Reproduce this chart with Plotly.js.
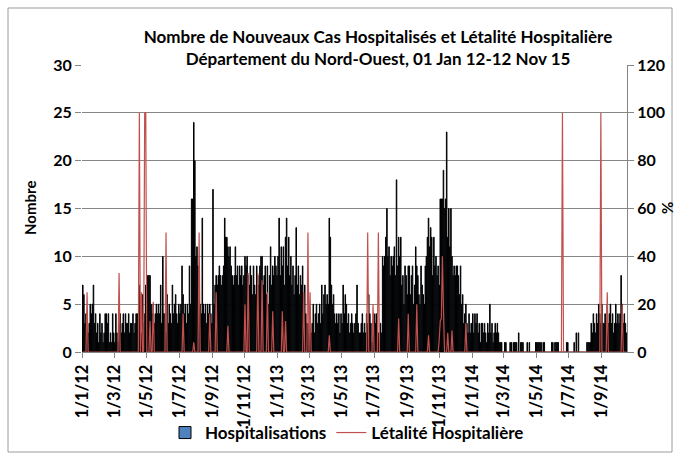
<!DOCTYPE html>
<html>
<head>
<meta charset="utf-8">
<script src="https://cdn.plot.ly/plotly-3.0.1.min.js"></script>
<style>
  html, body { margin: 0; padding: 0; background: #fff; }
  #chart { width: 677px; height: 457px; }
</style>
</head>
<body>
<div id="chart"></div>
<script>
// Daily counts aggregated in 2-day periods (one row per month)
const hosp2012 = [
  7,6,3,4,4,2,3,5,4,5,7,3,4,2,3,1,        // Jan
  4,2,3,1,2,4,4,3,4,1,2,1,4,2,            // Feb
  1,4,2,1,3,4,2,3,4,2,4,3,3,4,2,3,        // Mar
  3,4,2,3,4,4,3,7,5,2,6,3,4,7,8,          // Apr
  8,8,8,5,4,5,3,4,5,4,5,4,7,3,10,4,       // May
  4,2,6,3,5,4,3,7,4,5,6,4,3,5,4,          // Jun
  5,9,6,4,5,3,5,4,9,5,16,16,24,20,10,11,  // Jul
  9,6,5,4,14,5,4,5,3,5,4,5,4,3,17,        // Aug
  5,7,8,7,8,9,8,7,8,9,14,12,12,11,10,     // Sep
  11,9,8,7,8,11,8,9,7,9,8,9,7,8,10,       // Oct
  9,10,8,7,9,8,6,9,7,6,9,8,7,9,10,        // Nov
  10,7,8,9,6,9,5,8,11,7,9,8,10,9,8        // Dec
];
const hosp2013 = [
  10,14,8,11,9,11,7,12,14,9,12,8,10,7,9,6, // Jan
  8,13,7,9,6,8,7,9,5,7,4,3,3,2,            // Feb
  3,2,3,5,2,4,5,3,4,5,3,7,4,6,7,5,         // Mar
  6,5,14,12,7,5,6,4,3,4,3,4,2,4,3,         // Apr
  7,4,6,5,3,4,2,3,4,3,2,3,4,7,3,2,         // May
  2,3,4,2,3,2,4,3,6,4,3,1,2,4,3,           // Jun
  4,3,2,1,3,2,10,9,10,12,15,10,11,8,10,9,  // Jul
  10,11,8,18,9,12,10,12,7,8,5,9,8,6,9,     // Aug
  9,6,8,9,5,7,11,9,8,6,5,9,7,6,5,          // Sep
  9,10,12,14,11,13,12,8,12,9,10,8,9,7,16,  // Oct
  16,16,19,15,16,23,12,15,11,15,10,8,9,8,9,// Nov
  9,8,6,9,5,6,3,4,5,3,2,4,2,3,1            // Dec
];
const hosp2014 = [
  4,2,4,3,4,2,3,1,3,3,2,3,2,1,3,2,         // Jan
  5,2,3,1,2,3,2,3,2,1,1,1,0,0,             // Feb
  1,1,0,0,0,1,1,0,1,1,1,1,0,2,0,1,         // Mar
  1,1,0,0,0,1,0,1,0,0,0,0,0,1,1,           // Apr
  1,1,1,1,0,1,1,0,0,0,0,0,0,1,1,0,         // May
  1,1,1,1,0,0,0,0,0,0,0,1,1,0,0,           // Jun
  0,0,0,1,0,2,0,2,0,0,0,0,0,0,0,1,         // Jul
  1,1,1,3,2,4,3,2,4,3,5,4,3,5,3,           // Aug
  3,4,2,5,3,4,5,3,4,2,3,5,3,4,3,           // Sep
  4,8,5,3,4,3,2                            // Oct
];
// Hospital lethality (%) for the same 2-day periods
const leth2012 = [
  0,0,0,0,25,0,0,0,0,0,0,0,0,0,0,0,
  0,0,0,0,0,0,0,0,0,0,0,0,0,0,
  0,0,0,0,33,0,0,0,0,0,0,0,0,0,0,0,
  0,0,0,0,0,0,0,100,0,25,0,0,100,100,0,
  0,0,13,0,0,21,0,0,0,0,0,0,0,0,0,0,
  0,50,0,0,0,0,0,0,0,0,0,0,0,0,0,
  0,0,16,0,0,0,0,0,0,0,0,0,4,0,0,0,
  0,50,0,0,0,0,0,0,0,0,0,16,0,0,0,
  0,0,25,0,0,0,0,0,0,0,0,0,0,11,0,
  0,0,0,0,0,0,0,0,0,0,0,0,0,0,20,
  0,0,33,0,0,0,0,0,0,0,0,33,0,0,0,
  30,0,0,0,0,25,0,0,0,0,17,0,0,0,0
];
const leth2013 = [
  0,0,0,0,17,0,0,13,0,0,0,0,0,0,0,0,
  0,0,0,0,0,0,0,0,25,0,0,0,50,0,
  25,0,0,0,0,0,0,0,0,0,0,0,0,0,0,0,
  0,0,7,0,0,0,0,0,0,0,0,0,0,0,0,
  0,0,0,0,0,0,0,0,0,0,0,0,0,0,0,0,
  0,0,0,0,0,0,0,50,0,0,0,0,20,0,0,
  0,0,50,0,0,0,0,0,0,0,0,0,0,0,0,0,
  0,0,0,0,0,14,0,0,0,0,0,0,0,0,16,
  0,0,0,0,0,0,0,20,0,0,0,0,0,0,0,
  0,0,0,7,0,0,0,0,0,0,0,0,0,5,13,
  14,40,18,0,0,0,8,0,0,0,9,0,0,0,0,
  0,0,0,0,0,0,0,0,12,0,0,0,0,0,0
];
const leth2014 = [
  0,0,0,0,0,0,0,0,0,0,0,0,0,0,0,0,
  0,0,0,0,0,0,0,0,0,0,0,0,0,0,
  0,0,0,0,0,0,0,0,0,0,0,0,0,0,0,0,
  0,0,0,0,0,0,0,0,0,0,0,0,0,0,0,
  0,0,0,0,0,0,0,0,0,0,0,0,0,0,0,0,
  0,0,0,0,0,0,0,100,0,0,0,0,0,0,0,
  0,0,0,0,0,0,0,0,0,0,0,0,0,0,0,0,
  0,0,0,0,0,0,0,0,0,0,0,0,100,0,0,
  0,0,0,25,0,0,0,0,0,0,0,0,0,0,0,
  0,0,20,0,0,0,0
];
const tickDates = ['2012-01-01','2012-03-01','2012-05-01','2012-07-01','2012-09-01','2012-11-01',
  '2013-01-01','2013-03-01','2013-05-01','2013-07-01','2013-09-01','2013-11-01',
  '2014-01-01','2014-03-01','2014-05-01','2014-07-01','2014-09-01'];
const tickLabels = ['1/1/12','1/3/12','1/5/12','1/7/12','1/9/12','1/11/12',
  '1/1/13','1/3/13','1/5/13','1/7/13','1/9/13','1/11/13',
  '1/1/14','1/3/14','1/5/14','1/7/14','1/9/14'];

// Category dates: centre of each 2-day period, starting 1 January of each year
function periodDates(year, n) {
  const out = [];
  const day = 86400000;
  const start = Date.UTC(year, 0, 1);
  for (let i = 0; i < n; i++) {
    out.push(new Date(start + (2 * i + 1) * day).toISOString().slice(0, 19).replace('T', ' '));
  }
  return out;
}
const x = [].concat(periodDates(2012, hosp2012.length), periodDates(2013, hosp2013.length), periodDates(2014, hosp2014.length));
const hosp = [].concat(hosp2012, hosp2013, hosp2014);
const leth = [].concat(leth2012, leth2013, leth2014);

const FONT = 'Lato, "Open Sans", sans-serif';
const bold = (size) => ({family: FONT, size: size, color: '#000', weight: 'bold'});

const data = [
  {type: 'bar', x: x, y: hosp, name: 'Hospitalisations',
   marker: {color: '#4F81BD', line: {color: '#000', width: 1}}},
  {type: 'scatter', mode: 'lines', x: x, y: leth, yaxis: 'y2', name: 'Létalité Hospitalière',
   line: {color: '#C0504D', width: 1.2}}
];

const L = 82, R = 627, T = 65, B = 352;
const px = (v) => (v - L) / (R - L);
const py = (v) => (B - v) / (B - T);

const layout = {
  width: 677, height: 457,
  margin: {l: L, r: 677 - R, t: T, b: 457 - B, pad: 0, autoexpand: false},
  paper_bgcolor: '#fff', plot_bgcolor: '#fff',
  bargap: 0,
  title: {text: 'Nombre de Nouveaux Cas Hospitalisés et Létalité Hospitalière<br>Département du Nord-Ouest, 01 Jan 12-12 Nov 15',
          font: bold(17), x: 378 / 677, xanchor: 'center', y: 1 - 43 / 457, yanchor: 'top', automargin: false},
  xaxis: {type: 'date', range: ['2011-12-31 12:00', '2014-10-18'], automargin: false,
          tickmode: 'array', tickvals: tickDates, ticktext: tickLabels, tickangle: -90,
          tickfont: bold(16.5), showgrid: false, zeroline: false,
          showline: true, linecolor: '#868686', linewidth: 1,
          ticks: 'outside', ticklen: 5, tickcolor: '#868686'},
  yaxis: {range: [0, 30], tick0: 0, dtick: 5, tickfont: bold(16), automargin: false,
          showgrid: true, gridcolor: '#868686', gridwidth: 1, zeroline: false, showline: false,
          ticks: 'outside', ticklen: 6, tickcolor: '#868686'},
  yaxis2: {range: [0, 120], tick0: 0, dtick: 20, overlaying: 'y', side: 'right', tickfont: bold(16), automargin: false,
           showgrid: false, zeroline: false, showline: true, linecolor: '#868686', linewidth: 1,
           ticks: 'outside', ticklen: 6, tickcolor: '#868686'},
  showlegend: true,
  legend: {orientation: 'h', x: px(347), xanchor: 'center', y: py(433), yanchor: 'middle',
           font: bold(17), bgcolor: 'rgba(0,0,0,0)', itemwidth: 30, tracegroupgap: 0},
  annotations: [
    {text: 'Nombre', xref: 'paper', yref: 'paper', x: px(30), y: py(208), textangle: -90,
     showarrow: false, font: bold(15), xanchor: 'center', yanchor: 'middle'},
    {text: '%', xref: 'paper', yref: 'paper', x: px(667), y: py(208), textangle: -90,
     showarrow: false, font: bold(15), xanchor: 'center', yanchor: 'middle'}
  ],
  shapes: [
    {type: 'rect', xref: 'paper', yref: 'paper', x0: px(8), x1: px(672), y0: py(452), y1: py(8),
     line: {color: '#9a9a9a', width: 1}, fillcolor: 'rgba(0,0,0,0)', layer: 'below'}
  ]
};

Plotly.newPlot('chart', data, layout, {displayModeBar: false, staticPlot: true});
</script>
</body>
</html>
